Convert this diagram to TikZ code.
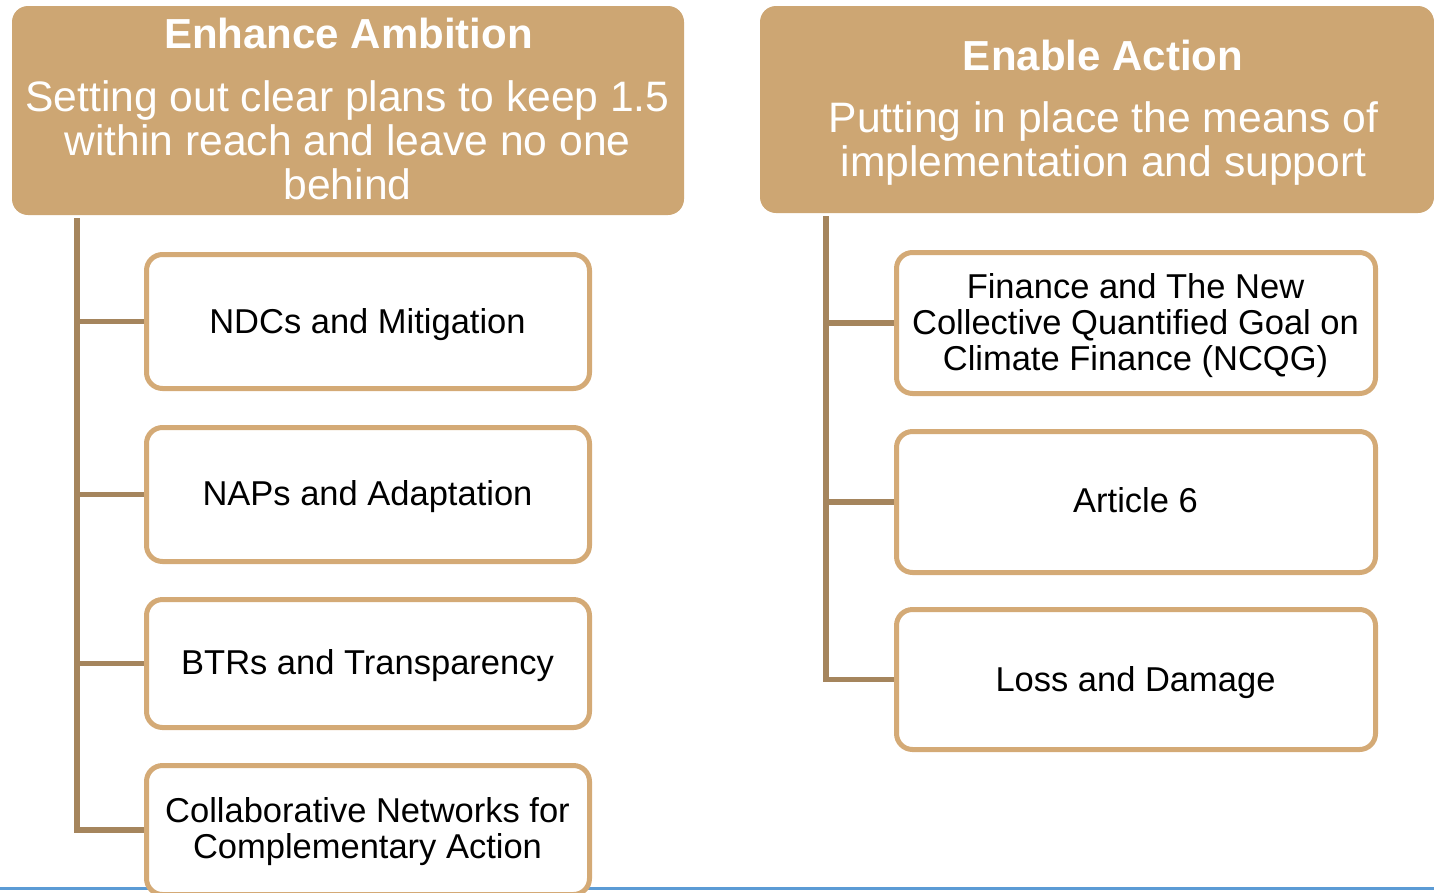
\documentclass[tikz,border=0pt]{standalone}
\usepackage{fontspec}
\setmainfont{Liberation Sans}
\definecolor{hdr}{HTML}{CDA673}
\definecolor{bord}{HTML}{D4AA76}
\definecolor{connc}{HTML}{A5855D}
\definecolor{blueline}{HTML}{5B9BD5}
\begin{document}
\begin{tikzpicture}[x=1pt,y=-1pt,
  header/.style={fill=hdr, rounded corners=16pt, inner sep=0pt},
  hdrtitle/.style={text=white, inner sep=0pt, anchor=base, font=\fontsize{42}{44}\selectfont\bfseries},
  hdrsub/.style={text=white, inner sep=0pt, anchor=base, align=center, font=\fontsize{42.6}{44}\selectfont},
  itembox/.style={draw=bord, fill=white, line width=5pt, rounded corners=16pt, inner sep=0pt,
    minimum width=443pt},
  ritembox/.style={itembox, minimum width=479pt},
  itemtext/.style={inner sep=0pt, anchor=base, align=center, font=\fontsize{34.5}{36}\selectfont},
  connline/.style={draw=connc, line width=5.5pt}]
\useasboundingbox (0,0) rectangle (1434,892);
% bottom rule
\coordinate (bl) at (0,888.5);
\coordinate (br) at (1434,888.5);
\draw[blueline, line width=3.5pt] (bl) -- (br);
% headers
\node[header, minimum width=672pt, minimum height=209pt] (lh) at (348,110.5) {};
\node[hdrtitle] (lht) at (348.5,48) {Enhance Ambition};
\node[hdrsub] (lhs) at (347.5,199) {Setting out clear plans to keep 1.5\\within reach and leave no one\\behind};
\node[header, minimum width=674pt, minimum height=207pt] (rh) at (1097,109.5) {};
\node[hdrtitle] (rht) at (1103,70) {Enable Action};
\node[hdrsub] (rhs) at (1103.5,176) {Putting in place the means of\\implementation and support};
% trunk coordinates
\coordinate (ltop) at (77,218);
\coordinate (rtop) at (826,216);
% left items
\node[itembox, minimum height=134pt] (l1) at (368,321.5) {};
\node[itembox, minimum height=134pt] (l2) at (368,494.5) {};
\node[itembox, minimum height=128pt] (l3) at (368,663.5) {};
\node[itembox, minimum height=129pt] (l4) at (368,830) {};
\node[itemtext] (l1t) at (367.5,333.5) {NDCs and Mitigation};
\node[itemtext] (l2t) at (367.5,505.5) {NAPs and Adaptation};
\node[itemtext] (l3t) at (367.5,674.5) {BTRs and Transparency};
\node[itemtext] (l4t) at (367.5,858.5) {Collaborative Networks for\\Complementary Action};
% right items
\node[ritembox, minimum height=141pt] (r1) at (1136,323) {};
\node[ritembox, minimum height=141pt] (r2) at (1136,502) {};
\node[ritembox, minimum height=140pt] (r3) at (1136,679.5) {};
\node[itemtext] (r1t) at (1135.5,370.5) {Finance and The New\\Collective Quantified Goal on\\Climate Finance (NCQG)};
\node[itemtext] (r2t) at (1135.5,512.5) {Article 6};
\node[itemtext] (r3t) at (1135.5,691.5) {Loss and Damage};
% connectors
\draw[connline] (ltop) |- (l4.west);
\draw[connline] (ltop |- l1.west) -- (l1.west);
\draw[connline] (ltop |- l2.west) -- (l2.west);
\draw[connline] (ltop |- l3.west) -- (l3.west);
\draw[connline] (rtop) |- (r3.west);
\draw[connline] (rtop |- r1.west) -- (r1.west);
\draw[connline] (rtop |- r2.west) -- (r2.west);
\end{tikzpicture}
\end{document}
